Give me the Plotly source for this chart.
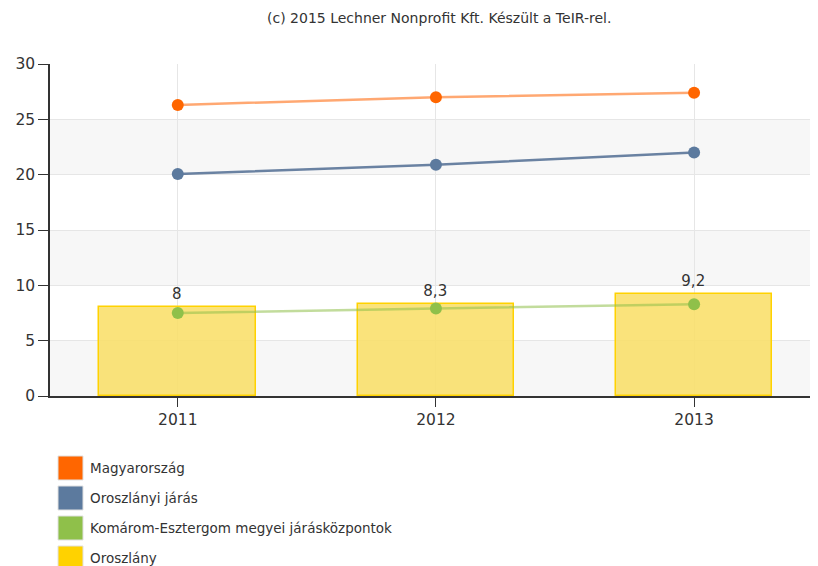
import plotly.graph_objects as go

years = ["2011", "2012", "2013"]
series_names = ["Magyarország", "Oroszlányi járás",
                "Komárom-Esztergom megyei járásközpontok", "Oroszlány"]
magyarorszag = [26.3, 27.0, 27.4]
oroszlanyi_jaras = [20.05, 20.9, 22.0]
komarom = [7.5, 7.9, 8.3]
oroszlany = [8.0, 8.3, 9.2]
y_ticks = [0, 5, 10, 15, 20, 25, 30]

colors = ["#ff6600", "#5c7a9e", "#8fc04a", "#ffd200"]
line_colors = ["rgba(255,110,20,0.6)", "rgba(70,100,140,0.8)", "rgba(143,192,74,0.55)"]

# page body has an 8px offset; figure coords = page coords - 8
W, H = 810, 558
L, T, B, R = 42, 56, 170, 0
PW, PH = W - L - R, H - T - B

xs = list(range(len(years)))
fig = go.Figure()

shapes = []
for i in range(len(y_ticks) - 1):
    if (len(y_ticks) - 2 - i) % 2 == 1:
        shapes.append(dict(type="rect", xref="paper", yref="y", x0=0, x1=1,
                           y0=y_ticks[i], y1=y_ticks[i + 1],
                           fillcolor="#f7f7f7", line_width=0, layer="below"))

fig.add_trace(go.Bar(
    x=xs, y=oroszlany, width=0.607,
    marker=dict(color="rgba(249,222,100,0.85)", line=dict(color="#ffd200", width=1.5)),
    text=[("%g" % v).replace(".", ",") for v in oroszlany],
    textposition="outside", textfont=dict(size=15, color="#333333", family="DejaVu Sans"),
    cliponaxis=False, name=series_names[3], showlegend=False))

for vals, c, lc, nm in zip([magyarorszag, oroszlanyi_jaras, komarom], colors[:3], line_colors, series_names[:3]):
    fig.add_trace(go.Scatter(
        x=xs, y=vals, mode="lines+markers", name=nm, showlegend=False,
        line=dict(color=lc, width=2.5, shape="spline"),
        marker=dict(color=c, size=12)))

annotations = [dict(text="(c) 2015 Lechner Nonprofit Kft. Készült a TeIR-rel.",
                    xref="paper", yref="paper", x=(439 - 8 - L) / PW, y=1, yshift=(64 - 18),
                    xanchor="center", yanchor="middle", showarrow=False,
                    font=dict(size=14, color="#333333", family="DejaVu Sans"))]
for i, (nm, c) in enumerate(zip(series_names, colors)):
    top = 456 + i * 30 - 8
    shapes.append(dict(type="rect", xref="paper", yref="paper",
                       x0=(58 - 8 - L) / PW, x1=(83 - 8 - L) / PW,
                       y0=(T + PH - top) / PH, y1=(T + PH - top - 24) / PH,
                       fillcolor=c, line=dict(color="#e0e0e0", width=1)))
    annotations.append(dict(text=nm, xref="paper", yref="paper",
                            x=(88 - 8 - L) / PW, y=(T + PH - top - 12) / PH,
                            xanchor="left", yanchor="middle", showarrow=False,
                            font=dict(size=13.5, color="#333333", family="DejaVu Sans")))

fig.update_layout(
    width=W, height=H,
    margin=dict(l=L, r=R, t=T, b=B, pad=0),
    plot_bgcolor="white", paper_bgcolor="white",
    shapes=shapes, annotations=annotations,
    bargap=0,
    xaxis=dict(range=[-0.495, 2.48], tickvals=xs, ticktext=years,
               showgrid=True, gridcolor="#e6e6e6", zeroline=False,
               showline=True, linecolor="#333333", linewidth=1.5,
               ticks="outside", ticklen=9, tickcolor="#333333",
               tickfont=dict(size=15.5, color="#333333", family="DejaVu Sans")),
    yaxis=dict(range=[0, 30], tickvals=y_ticks, showgrid=True, gridcolor="#e6e6e6",
               zeroline=False, showline=True, linecolor="#333333", linewidth=1.5,
               ticks="outside", ticklen=10, tickcolor="#333333",
               tickfont=dict(size=15.5, color="#333333", family="DejaVu Sans")),
)

fig.write_html("out.html")
